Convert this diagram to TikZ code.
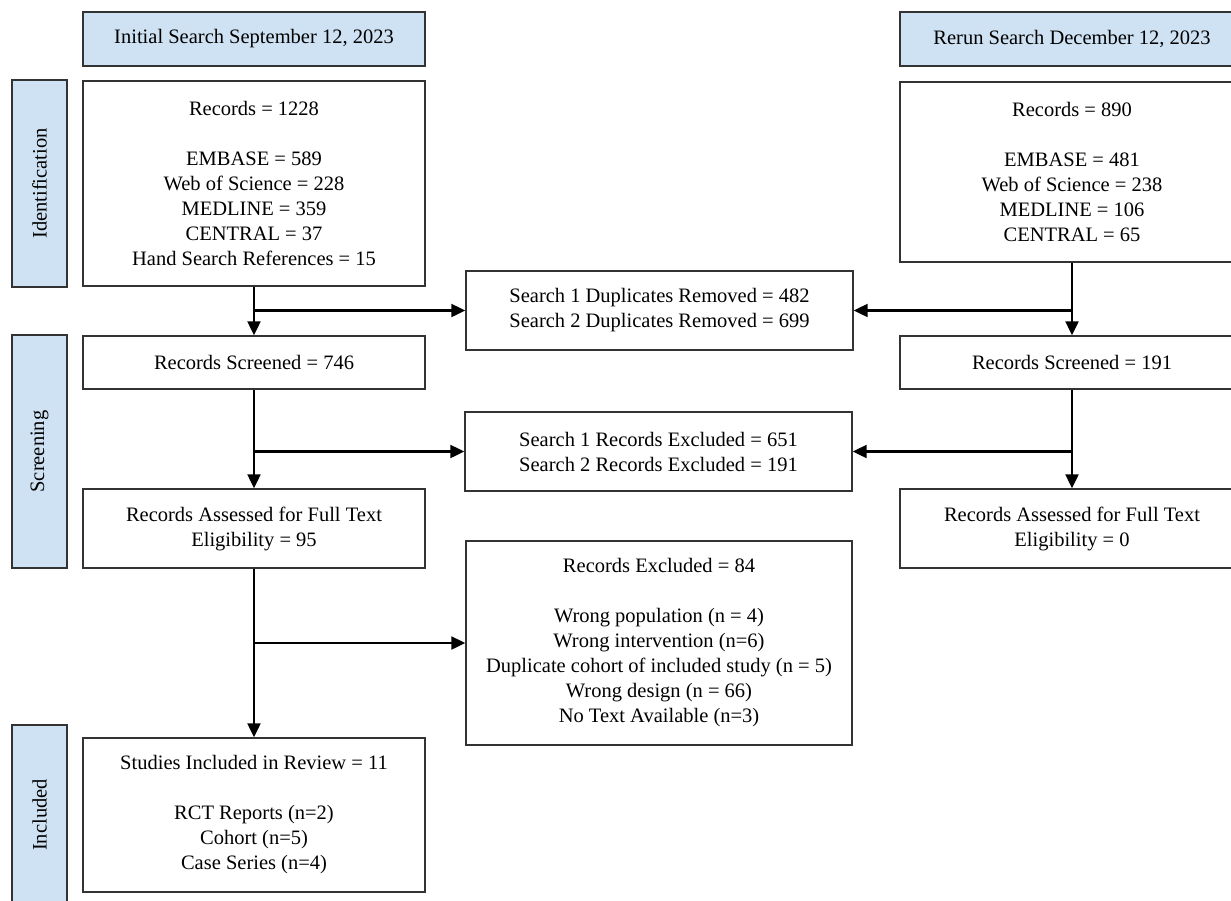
\documentclass[tikz,border=0pt]{standalone}
\usepackage{fontspec}
\setmainfont{Liberation Serif}
\usetikzlibrary{arrows.meta}
\definecolor{hdrblue}{HTML}{CFE2F3}
\definecolor{edge}{HTML}{333333}
\tikzset{
  box/.style={draw=edge, line width=1.4pt, fill=white, align=center, inner sep=0pt,
    font=\fontsize{20.5}{25}\selectfont},
  hdr/.style={box, fill=hdrblue},
  side/.style={draw=edge, line width=1.4pt, fill=hdrblue, inner sep=0pt, rotate=90,
    font=\fontsize{20.5}{25}\selectfont},
  flow/.style={line width=2.2pt, -{Triangle[length=14pt,width=13pt]}},
  plain/.style={line width=2.2pt}
}
\begin{document}
\begin{tikzpicture}[x=1pt,y=-1pt]
\useasboundingbox (0,0) rectangle (1231,900);
\clip (0,0) rectangle (1231,900);
% headers
\node[hdr, minimum width=342pt, minimum height=54pt] (hL) at (254,39) {Initial Search September 12, 2023};
\node[hdr, minimum width=344pt, minimum height=54pt] (hR) at (1072,39) {Rerun Search December 12, 2023};
% side labels
\node[side, minimum width=207pt, minimum height=55pt] (sId) at (39.5,183.5) {Identification};
\node[side, minimum width=233pt, minimum height=55pt] (sScr) at (39.5,451.5) {Screening};
\node[side, minimum width=180pt, minimum height=55pt] (sInc) at (39.5,815) {Included};
% identification
\node[box, minimum width=342pt, minimum height=205pt] (idL) at (254,183.5)
  {Records = 1228\\[25pt]EMBASE = 589\\Web of Science = 228\\MEDLINE = 359\\CENTRAL = 37\\Hand Search References = 15};
\node[box, minimum width=344pt, minimum height=180pt] (idR) at (1072,172)
  {Records = 890\\[25pt]EMBASE = 481\\Web of Science = 238\\MEDLINE = 106\\CENTRAL = 65};
\node[box, minimum width=387pt, minimum height=79pt] (dup) at (659.5,310.5)
  {Search 1 Duplicates Removed = 482\\Search 2 Duplicates Removed = 699};
% screening
\node[box, minimum width=342pt, minimum height=53pt] (scrL) at (254,362.5) {Records Screened = 746};
\node[box, minimum width=344pt, minimum height=53pt] (scrR) at (1072,362.5) {Records Screened = 191};
\node[box, minimum width=387pt, minimum height=79pt] (exc) at (658.5,451.5)
  {Search 1 Records Excluded = 651\\Search 2 Records Excluded = 191};
\node[box, minimum width=342pt, minimum height=79pt] (assL) at (254,528.5)
  {Records Assessed for Full Text\\Eligibility = 95};
\node[box, minimum width=344pt, minimum height=79pt] (assR) at (1072,528.5)
  {Records Assessed for Full Text\\Eligibility = 0};
\node[box, minimum width=386pt, minimum height=204pt] (ex84) at (659,643)
  {Records Excluded = 84\\[25pt]Wrong population (n = 4)\\Wrong intervention (n=6)\\Duplicate cohort of included study (n = 5)\\Wrong design (n = 66)\\No Text Available (n=3)};
% included
\node[box, minimum width=342pt, minimum height=154pt] (inc) at (254,815)
  {Studies Included in Review = 11\\[25pt]RCT Reports (n=2)\\Cohort (n=5)\\Case Series (n=4)};
% connectors
\coordinate (j1) at (idL.south |- dup.west);
\coordinate (j2) at (idR.south |- dup.east);
\coordinate (j3) at (scrL.south |- exc.west);
\coordinate (j4) at (scrR.south |- exc.east);
\coordinate (j5) at (assL.south |- ex84.west);
\draw[flow] (idL.south) -- (scrL.north);
\draw[flow] (j1) -- (dup.west);
\draw[flow] (idR.south) -- (scrR.north);
\draw[flow] (j2) -- (dup.east);
\draw[flow] (scrL.south) -- (assL.north);
\draw[flow] (j3) -- (exc.west);
\draw[flow] (scrR.south) -- (assR.north);
\draw[flow] (j4) -- (exc.east);
\draw[flow] (assL.south) -- (inc.north);
\draw[flow] (j5) -- (ex84.west);
\end{tikzpicture}
\end{document}
